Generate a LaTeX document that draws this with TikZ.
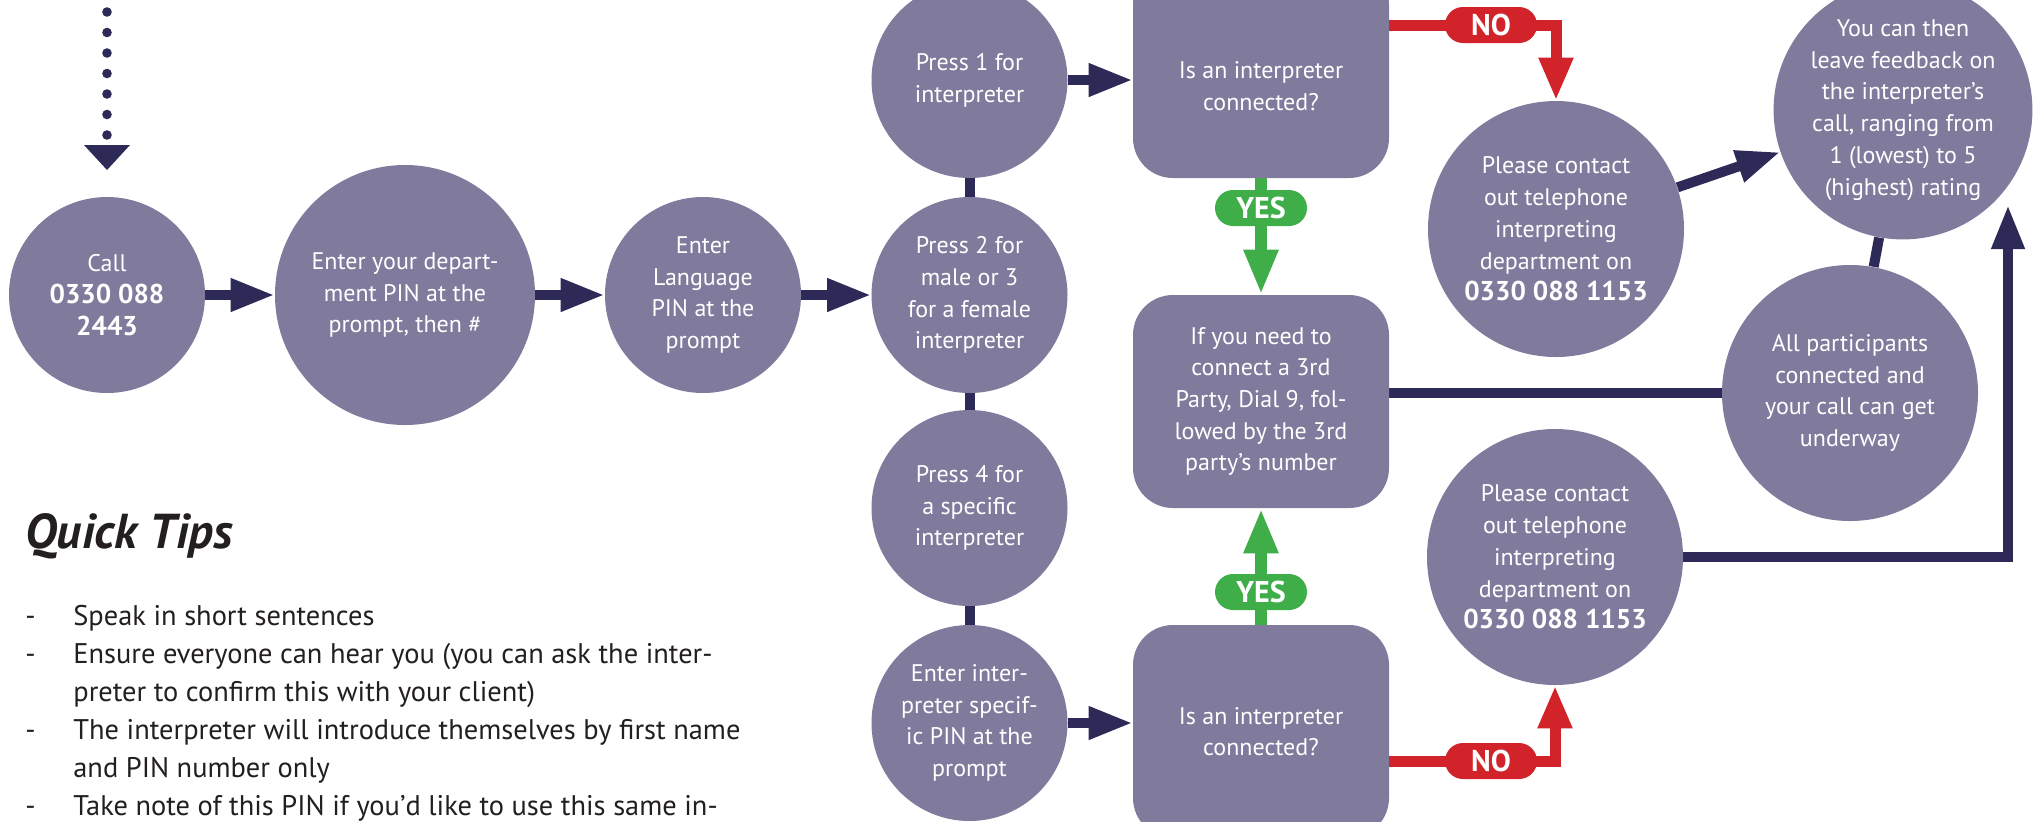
\documentclass[tikz,border=0pt]{standalone}
\usepackage{fontspec}
\setmainfont{PT Sans}
\usetikzlibrary{arrows.meta,calc}
\definecolor{purp}{RGB}{128,122,156}
\definecolor{navy}{RGB}{46,42,88}
\definecolor{nored}{RGB}{210,35,42}
\definecolor{yesgreen}{RGB}{63,174,73}
\definecolor{ink}{RGB}{35,31,32}
\pgfdeclarelayer{bg}
\pgfsetlayers{bg,main}
\newcommand{\phonenum}[1]{{\bfseries\fontsize{13.6}{15.85}\selectfont #1}}
\begin{document}
\begin{tikzpicture}[x=0.5pt,y=-0.5pt,
  nodefont/.style={font=\fontsize{12}{15.85}\selectfont},
  wtext/.style={nodefont,text=white,align=center,inner sep=0pt},
  disc/.style={circle,fill=purp,inner sep=0pt,minimum size=98pt,wtext},
  bigdisc/.style={disc,minimum size=128pt},
  qbox/.style={rectangle,rounded corners=20pt,fill=purp,minimum width=128pt,minimum height=106.5pt,inner sep=0pt,wtext},
  pill/.style={rectangle,rounded corners=9pt,minimum width=46pt,minimum height=18pt,inner sep=0pt,text=white,font=\bfseries\fontsize{15}{15}\selectfont},
  flow/.style={draw=navy,line width=5pt,-{Triangle[length=22pt,width=15.5pt]}},
  link/.style={draw=navy,line width=5pt},
  noflow/.style={draw=nored,line width=5.5pt,-{Triangle[length=21.5pt,width=16pt]}},
  yesflow/.style={draw=yesgreen,line width=6pt,-{Triangle[length=22.5pt,width=16pt]}},
  tip/.style={text=ink,font=\fontsize{14.2}{19}\selectfont,inner sep=0pt,anchor=base west},
]
\useasboundingbox (0,0) rectangle (2035,821);
\clip (0,0) rectangle (2035,821);

% dotted entry arrow
\foreach \k in {0,...,6} \fill[navy] (107,12+20.5*\k) circle[radius=2.4pt];
\fill[navy] (84,145) -- (130,145) -- (107,170) -- cycle;

% main row
\node[disc] (call) at (107,295) {Call\\\phonenum{0330 088}\\\phonenum{2443}};
\node[disc,minimum size=130pt] (dept) at (405,295) {Enter your depart-\\ment PIN at the\\prompt, then \#};
\node[disc] (lang) at (703,295) {Enter\\Language\\PIN at the\\prompt};

% press column
\node[disc] (p1) at (969.5,80) {Press 1 for\\interpreter};
\node[disc] (p2) at (969.5,295) {Press 2 for\\male or 3\\for a female\\interpreter};
\node[disc] (p4) at (969.5,508) {Press 4 for\\a specific\\interpreter};
\node[disc] (p5) at (969.5,723) {Enter inter-\\preter specif-\\ic PIN at the\\prompt};

% question boxes
\node[qbox] (b1) at (1261,71.5) {};
\node[wtext] (b1t) at (1261,86) {Is an interpreter\\connected?};
\node[qbox] (b2) at (1261,401.5) {If you need to\\connect a 3rd\\Party, Dial 9, fol-\\lowed by the 3rd\\party’s number};
\node[qbox] (b3) at (1261,731.5) {Is an interpreter\\connected?};

% right side
\node[bigdisc] (c1) at (1556,229) {Please contact\\out telephone\\interpreting\\department on\\\phonenum{0330 088 1153}};
\node[bigdisc] (c2) at (1555,557) {Please contact\\out telephone\\interpreting\\department on\\\phonenum{0330 088 1153}};
\node[bigdisc] (fb) at (1903,110) {You can then\\leave feedback on\\the interpreter’s\\call, ranging from\\1 (lowest) to 5\\(highest) rating};
\node[bigdisc] (all) at (1850,393) {All participants\\connected and\\your call can get\\underway};
\coordinate (upend) at (2008,205);

% labels
\node[pill,fill=yesgreen] (yes1) at (1261,208) {YES};
\node[pill,fill=yesgreen] (yes2) at (1261,592) {YES};
\node[pill,fill=nored] (no1) at (1491,25) {NO};
\node[pill,fill=nored] (no2) at (1491,761) {NO};

\begin{pgfonlayer}{bg}
  \fill[white] (0,0) rectangle (2035,821);
  \draw[flow] (call) -- (dept);
  \draw[flow] (dept) -- (lang);
  \draw[flow] (lang) -- (p2);
  \draw[flow] (p1.east) -- (p1.east -| b1.west);
  \draw[flow] (p5.east) -- (p5.east -| b3.west);
  \draw[link] (p1) -- (p2);
  \draw[link] (p2) -- (p4);
  \draw[link] (p4) -- (p5);
  \draw[link] (b2.east |- all) -- (all);
  \draw[link] (fb) -- (all);
  \draw[flow] (c1) -- (fb);
  \draw[flow] (c2.east) -| (upend);
  \draw[noflow] (b1.east |- no1) -| (c1.north);
  \draw[noflow] (b3.east |- no2) -| (c2.south);
  \draw[yesflow] (b1.south) -- (b2.north);
  \draw[yesflow] (b3.north) -- (b2.south);
\end{pgfonlayer}

% quick tips
\node[text=ink,font=\bfseries\itshape\fontsize{24.5}{28}\selectfont,inner sep=0pt,anchor=base west] (qt) at (25,548) {Quick Tips};
\node[tip] (d1) at (25,625) {-};
\node[tip] (t1) at (73,625) {Speak in short sentences};
\node[tip] (d2) at (25,663) {-};
\node[tip] (t2) at (73,663) {Ensure everyone can hear you (you can ask the inter-};
\node[tip] (t3) at (73,701) {preter to confirm this with your client)};
\node[tip] (d4) at (25,739) {-};
\node[tip] (t4) at (73,739) {The interpreter will introduce themselves by first name};
\node[tip] (t5) at (73,777) {and PIN number only};
\node[tip] (d6) at (25,815) {-};
\node[tip] (t6) at (73,815) {Take note of this PIN if you’d like to use this same in-};
\end{tikzpicture}
\end{document}
